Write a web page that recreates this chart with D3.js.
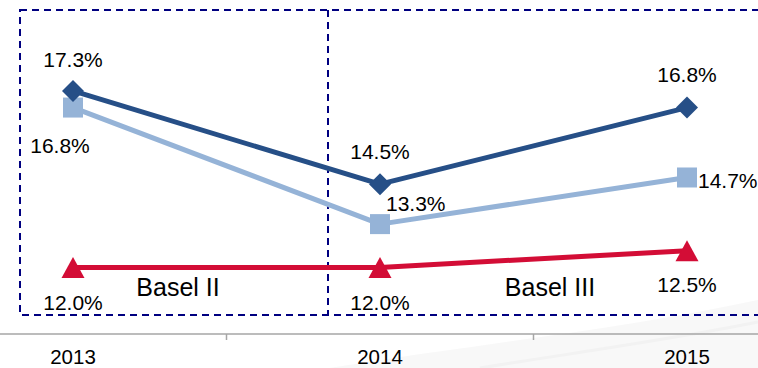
<!DOCTYPE html>
<html>
<head>
<meta charset="utf-8">
<script src="https://cdn.jsdelivr.net/npm/d3@7"></script>
<style>
  html, body { margin: 0; padding: 0; background: #fff; }
  svg { display: block; font-family: "Liberation Sans", Arial, sans-serif; }
</style>
</head>
<body>
<svg id="chart" width="758" height="368"></svg>
<script>
// Capital ratio by year, against the regulatory minimum
const years = ["2013", "2014", "2015"];
const totalCapital = [17.3, 14.5, 16.8];
const tier1Capital = [16.8, 13.3, 14.7];
const minimumRequired = [12.0, 12.0, 12.5];
const regimeLabels = ["Basel II", "Basel III"];

const W = 758, H = 368;
const svg = d3.select("#chart");

const x = d3.scaleBand().domain(years).range([-80.5, 840.5]).padding(0);
const cx = d => x(d) + x.bandwidth() / 2;
const y = d3.scaleLinear().domain([10, 20]).range([334, 1]);

const fmt = v => v.toFixed(1) + "%";

// faint background sweep along the bottom right
const bg = svg.append("g").attr("opacity", 0.5);
bg.append("path")
  .attr("d", "M330,368 C470,345 620,330 758,300 L758,368 Z")
  .attr("fill", "#f2f2f2");
bg.append("path")
  .attr("d", "M480,368 C580,352 680,338 758,322")
  .attr("fill", "none").attr("stroke", "#e6e6e6").attr("stroke-width", 3);

// regime boxes
const boxColor = "#000080";
svg.append("rect")
  .attr("x", 20).attr("y", 10).attr("width", 800).attr("height", 305)
  .attr("fill", "none").attr("stroke", boxColor).attr("stroke-width", 2)
  .attr("stroke-dasharray", "7,5");
svg.append("line")
  .attr("x1", 328).attr("x2", 328).attr("y1", 10).attr("y2", 315)
  .attr("stroke", boxColor).attr("stroke-width", 2)
  .attr("stroke-dasharray", "7,5");

// x axis
const axisY = y(10);
const axis = d3.axisBottom(x).tickSize(0).tickPadding(0);
const gx = svg.append("g").attr("transform", `translate(0,${axisY})`).call(axis);
gx.attr("font-size", null).attr("font-family", null);
gx.select(".domain").remove();
gx.selectAll(".tick text")
  .attr("y", 30).attr("dy", 0)
  .style("font-size", "20.5px")
  .style("font-family", "'Liberation Sans', Arial, sans-serif")
  .attr("fill", "#000");
svg.append("line")
  .attr("x1", 0).attr("x2", W).attr("y1", axisY).attr("y2", axisY)
  .attr("stroke", "#a6a6a6").attr("stroke-width", 1.5);
svg.selectAll(".bound")
  .data(years.slice(1))
  .join("line")
  .attr("x1", d => x(d)).attr("x2", d => x(d))
  .attr("y1", axisY).attr("y2", axisY + 6)
  .attr("stroke", "#a6a6a6").attr("stroke-width", 1.5);

const line = d3.line().x(d => cx(d.year)).y(d => y(d.value));

const diamond = "M0,-11L11,0L0,11L-11,0Z";
const square = "M-10,-10H10V10H-10Z";
const triangle = "M0,-10.5L11.5,10.5H-11.5Z";

const series = [
  { values: tier1Capital, color: "#95B3D7", marker: square,
    place: [{dx: -13, dy: 45, anchor: "middle"}, {dx: 6, dy: -13, anchor: "start"}, {dx: 11, dy: 11, anchor: "start"}] },
  { values: totalCapital, color: "#264F87", marker: diamond,
    place: [{dx: 0, dy: -24, anchor: "middle"}, {dx: 0, dy: -25, anchor: "middle"}, {dx: 0, dy: -26, anchor: "middle"}] },
  { values: minimumRequired, color: "#D30D36", marker: triangle,
    place: [{dx: 0, dy: 43, anchor: "middle"}, {dx: 0, dy: 43, anchor: "middle"}, {dx: 0, dy: 41, anchor: "middle"}] }
];

series.forEach(s => {
  const pts = years.map((yr, i) => ({ year: yr, value: s.values[i], place: s.place[i] }));
  const g = svg.append("g");
  g.append("path").datum(pts)
    .attr("d", line).attr("fill", "none")
    .attr("stroke", s.color).attr("stroke-width", 5)
    .attr("stroke-linejoin", "round");
  g.selectAll(".m").data(pts).join("path")
    .attr("d", s.marker)
    .attr("transform", d => `translate(${cx(d.year)},${y(d.value)})`)
    .attr("fill", s.color);
  g.selectAll(".lbl").data(pts).join("text")
    .attr("x", d => cx(d.year) + d.place.dx)
    .attr("y", d => y(d.value) + d.place.dy)
    .attr("text-anchor", d => d.place.anchor)
    .attr("font-size", 21)
    .attr("fill", "#000")
    .text(d => fmt(d.value));
});

// regime labels
svg.selectAll(".regime")
  .data(regimeLabels)
  .join("text")
  .attr("x", (d, i) => [178, 550][i])
  .attr("y", 296)
  .attr("text-anchor", "middle")
  .attr("font-size", 25)
  .attr("fill", "#000")
  .text(d => d);
</script>
</body>
</html>
